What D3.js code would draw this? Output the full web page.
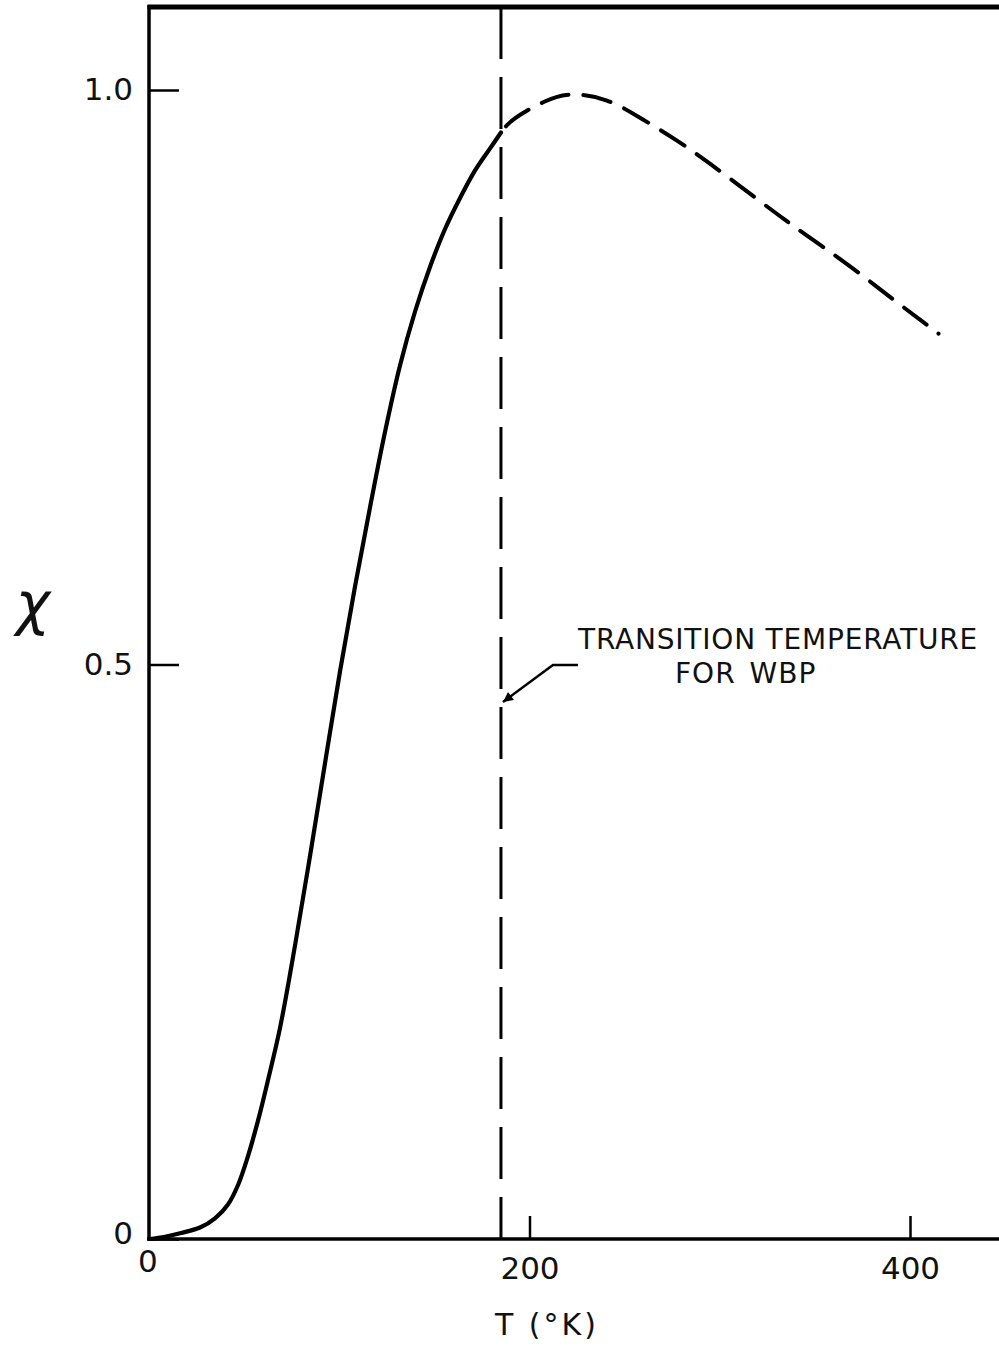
<!DOCTYPE html>
<html>
<head>
<meta charset="utf-8">
<script src="https://cdn.jsdelivr.net/npm/d3@7"></script>
<style>
  body { margin: 0; background: #fff; }
  svg { display: block; background: #fff; }
  text { font-family: "DejaVu Sans", sans-serif; fill: #111; }
</style>
</head>
<body>
<svg id="chart"></svg>
<script>
// chi vs T
const tempSolid = [0, 8.4, 16.3, 26.8, 34.7, 41.5, 46.8, 52.0, 57.3, 62.5, 68.9, 76.7, 84.6, 92.5, 100.4, 108.3, 116.2, 124.0, 131.9, 139.8, 147.7, 155.6, 163.5, 171.4, 179.2, 185];
const chiSolid  = [0, 0.002, 0.005, 0.010, 0.018, 0.030, 0.047, 0.072, 0.103, 0.138, 0.184, 0.255, 0.333, 0.414, 0.494, 0.568, 0.637, 0.702, 0.760, 0.807, 0.846, 0.879, 0.906, 0.930, 0.949, 0.963];
const tempDashed = [185, 190, 208, 221, 241, 259, 278, 294, 315, 334, 353, 374, 394, 415];
const chiDashed  = [0.963, 0.974, 0.991, 0.998, 0.993, 0.975, 0.956, 0.937, 0.911, 0.887, 0.865, 0.840, 0.814, 0.788];
const transitionT = 185;
const xTicks = [0, 200, 400];
const xTickLabels = ["0", "200", "400"];
const yTicks = [0, 0.5, 1.0];
const yTickLabels = ["0", "0.5", "1.0"];

const width = 999, height = 1348;
const frameTop = 7, frameRight = 1002;

const svg = d3.select("#chart")
  .attr("width", width)
  .attr("height", height);

const x = d3.scaleLinear().domain([0, 400]).range([149, 910]);
const y = d3.scaleLinear().domain([0, 1]).range([1239, 90]);

// frame
svg.append("line")
  .attr("x1", x(0)).attr("x2", x(0))
  .attr("y1", frameTop - 2).attr("y2", y(0) + 1.5)
  .attr("stroke", "#000").attr("stroke-width", 3.5);
svg.append("line")
  .attr("x1", x(0) - 1.5).attr("x2", frameRight)
  .attr("y1", frameTop).attr("y2", frameTop)
  .attr("stroke", "#000").attr("stroke-width", 5);
svg.append("line")
  .attr("x1", x(0) - 1.5).attr("x2", frameRight)
  .attr("y1", y(0)).attr("y2", y(0))
  .attr("stroke", "#000").attr("stroke-width", 3.5);

// axes with inward ticks
const yAxis = svg.append("g")
  .attr("transform", `translate(${x(0)},0)`)
  .call(d3.axisLeft(y)
    .tickValues(yTicks)
    .tickFormat((d, i) => yTickLabels[i])
    .tickSizeInner(-30)
    .tickSizeOuter(0)
    .tickPadding(16));
yAxis.select(".domain").remove();
yAxis.selectAll(".tick line").attr("stroke", "#000").attr("stroke-width", 2.5);
yAxis.selectAll(".tick text")
  .attr("font-family", "DejaVu Sans, sans-serif")
  .attr("font-size", 31)
  .attr("fill", "#111");
yAxis.selectAll(".tick text").filter(d => d === 0).attr("dy", "0.15em");

const xAxis = svg.append("g")
  .attr("transform", `translate(0,${y(0)})`)
  .call(d3.axisBottom(x)
    .tickValues(xTicks)
    .tickFormat((d, i) => xTickLabels[i])
    .tickSizeInner(-23)
    .tickSizeOuter(0)
    .tickPadding(18));
xAxis.select(".domain").remove();
xAxis.selectAll(".tick line").attr("stroke", "#000").attr("stroke-width", 2.5)
  .filter(d => d === 0).remove();
xAxis.selectAll(".tick text")
  .attr("font-family", "DejaVu Sans, sans-serif")
  .attr("font-size", 31)
  .attr("fill", "#111");
xAxis.selectAll(".tick text").filter(d => d === 0)
  .attr("y", 11).attr("dx", "-0.05em");

// transition temperature marker
svg.append("line")
  .attr("x1", x(transitionT)).attr("x2", x(transitionT))
  .attr("y1", frameTop).attr("y2", y(0))
  .attr("stroke", "#000")
  .attr("stroke-width", 3)
  .attr("stroke-dasharray", "52 18");

// curve
const solidLine = d3.line()
  .x(d => x(d[0]))
  .y(d => y(d[1]))
  .curve(d3.curveCatmullRom.alpha(0.5));

const dashLine = d3.line()
  .x(d => x(d[0]))
  .y(d => y(d[1]))
  .curve(d3.curveBasis);

svg.append("path")
  .datum(tempSolid.map((t, i) => [t, chiSolid[i]]))
  .attr("d", solidLine)
  .attr("fill", "none")
  .attr("stroke", "#000")
  .attr("stroke-width", 4.2)
  .attr("stroke-linecap", "round");

svg.append("path")
  .datum(tempDashed.map((t, i) => [t, chiDashed[i]]))
  .attr("d", dashLine)
  .attr("fill", "none")
  .attr("stroke", "#000")
  .attr("stroke-width", 4)
  .attr("stroke-linecap", "round")
  .attr("stroke-dasharray", "28 15")
  .attr("stroke-dashoffset", 35);

// annotation
svg.append("defs").append("marker")
  .attr("id", "head")
  .attr("viewBox", "0 0 10 10")
  .attr("refX", 10).attr("refY", 5)
  .attr("markerWidth", 8).attr("markerHeight", 4)
  .attr("markerUnits", "strokeWidth")
  .attr("orient", "auto")
  .append("path")
  .attr("d", "M0,0 L10,5 L0,10 Z")
  .attr("fill", "#000");

const xt = x(transitionT);
svg.append("path")
  .attr("d", `M${xt + 77},665 L${xt + 52},665 L${xt + 2},702`)
  .attr("fill", "none")
  .attr("stroke", "#000")
  .attr("stroke-width", 2.5)
  .attr("marker-end", "url(#head)");

svg.append("text")
  .attr("x", 578).attr("y", 649)
  .attr("font-size", 28)
  .attr("letter-spacing", 0.8)
  .text("TRANSITION TEMPERATURE");
svg.append("text")
  .attr("x", 675).attr("y", 683)
  .attr("font-size", 28)
  .attr("word-spacing", 4)
  .attr("letter-spacing", 1)
  .text("FOR WBP");

// axis titles
svg.append("text")
  .attr("x", 33).attr("y", 624)
  .attr("text-anchor", "middle")
  .attr("font-family", "DejaVu Serif, serif")
  .attr("font-style", "italic")
  .attr("font-size", 58)
  .text("χ");
svg.append("text")
  .attr("x", 495).attr("y", 1335)
  .attr("font-size", 30)
  .attr("letter-spacing", 3)
  .text("T (°K)");
</script>
</body>
</html>
